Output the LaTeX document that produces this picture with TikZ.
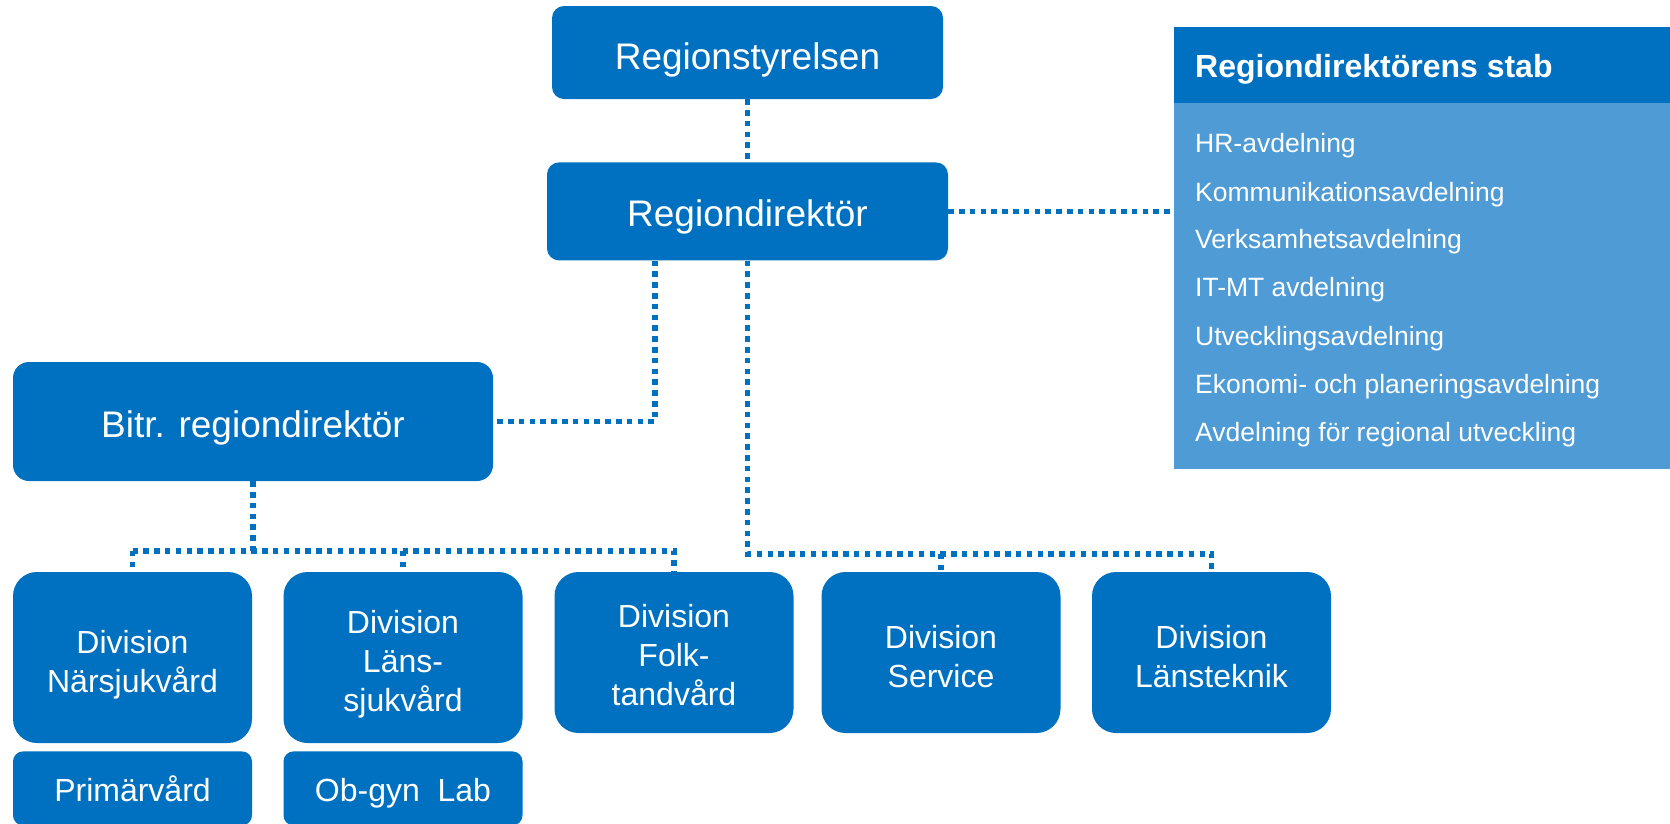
\documentclass[tikz,border=0pt]{standalone}
\usepackage{fontspec}
\setmainfont{Liberation Sans}
\usepackage{tikz}
\usetikzlibrary{positioning}

\definecolor{regblue}{RGB}{0,112,192}
\definecolor{stabblue}{RGB}{79,155,213}

\begin{document}
\begin{tikzpicture}[x=1pt,y=-1pt,inner sep=0pt,
  link/.style={draw=regblue,line width=5.5pt,dash pattern=on 5.5pt off 5.3pt}]
  \tikzstyle{box}=[rectangle,fill=regblue,text=white,align=center,rounded corners=12pt,
    text height=31pt,text depth=0pt,font=\fontsize{37}{44}\selectfont]
  \tikzstyle{div}=[box,minimum width=239pt,rounded corners=24pt,text height=69pt,font=\fontsize{32}{39}\selectfont]
  \tikzstyle{sub}=[box,minimum width=239pt,minimum height=74pt,rounded corners=10pt,text height=27pt,font=\fontsize{32}{39}\selectfont]
  \tikzstyle{item}=[anchor=west,text=white,font=\fontsize{26.5}{32}\selectfont]
  \useasboundingbox (0,0) rectangle (1670,823);
  % ledning
  \node[box,minimum width=391pt,minimum height=93pt,text height=34pt] (rs) at (747.5,52.5) {Regionstyrelsen};
  \node[box,minimum width=401pt,minimum height=98pt] (rd) [below=63pt of rs] {Regiondirektör};
  \node[box,minimum width=480pt,minimum height=119pt,rounded corners=16pt] (bitr) at (253,421.5) {Bitr. regiondirektör};
  % divisioner
  \node[div,minimum height=171pt] (d1) at (132.5,657.5) {Division\\Närsjukvård};
  \node[div,minimum height=171pt,text height=107pt] (d2) at (403,657.5) {Division\\Läns-\\sjukvård};
  \node[div,minimum height=161pt,text height=106pt] (d3) at (674,652.5) {Division\\Folk-\\tandvård};
  \node[div,minimum height=161pt] (d4) at (941,652.5) {Division\\Service};
  \node[div,minimum height=161pt] (d5) at (1211.5,652.5) {Division\\Länsteknik};
  \node[sub] (prim) [below=8pt of d1] {Primärvård};
  \node[sub] (obgyn) [below=8pt of d2] {Ob-gyn~~Lab};
  % stab
  \node[fill=stabblue,minimum width=496pt,minimum height=366pt,anchor=north west] (stab) at (1174,103) {};
  \node[fill=regblue,minimum width=496pt,minimum height=76pt,anchor=north west] (stabhead) at (1174,27) {};
  \node[anchor=west,text=white,font=\bfseries\fontsize{32}{38}\selectfont] (stabtitle) at (1195,69) {Regiondirektörens stab};
  \node[item] (hr)   at (1195,146) {HR-avdelning};
  \node[item] (komm) at (1195,195) {Kommunikationsavdelning};
  \node[item] (verk) at (1195,242) {Verksamhetsavdelning};
  \node[item] (it)   at (1195,290) {IT-MT avdelning};
  \node[item] (utv)  at (1195,339) {Utvecklingsavdelning};
  \node[item] (ekon) at (1195,387) {Ekonomi- och planeringsavdelning};
  \node[item] (reg)  at (1195,435) {Avdelning för regional utveckling};
  % linjer
  \coordinate (busL) at ([yshift=21pt]d1.north);
  \coordinate (busR) at ([yshift=18pt]d5.north);
  \draw[link] (rs) -- (rd);
  \draw[link] (rd.east) -- (rd.east -| stab.west);
  \draw[link] ([xshift=-92.5pt]rd.south) |- (bitr.east);
  \draw[link] (rd.south) |- (busR) -- (d5.north);
  \draw[link] (d4.north |- busR) -- (d4.north);
  \draw[link] (bitr.south) -- (bitr.south |- busL);
  \draw[link] (busL) -- (busL -| d3.north) -- (d3.north);
  \draw[link] (busL) -- (d1.north);
  \draw[link] (d2.north |- busL) -- (d2.north);
\end{tikzpicture}
\end{document}
